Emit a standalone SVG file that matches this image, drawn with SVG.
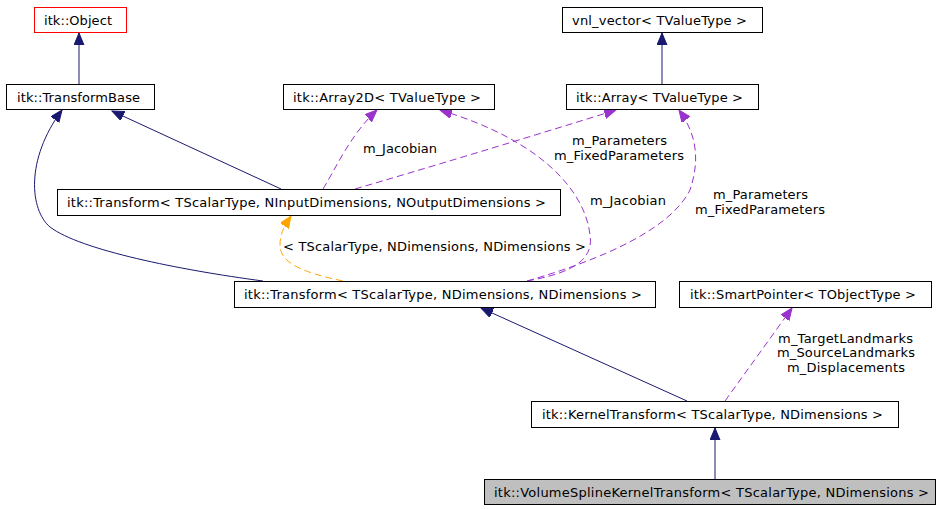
<svg xmlns="http://www.w3.org/2000/svg" width="951" height="509" viewBox="0 0 951 509">
<style>
  .box { fill: #ffffff; stroke: #000000; stroke-width: 1; }
  .t { font-family: "DejaVu Sans", "Liberation Sans", sans-serif; font-size: 13px; fill: #000000; text-anchor: middle; }
  .inh { fill: none; stroke: #191970; stroke-width: 1; }
  .mem { fill: none; stroke: #9a32cd; stroke-width: 1; stroke-dasharray: 7,4; }
  .tpl { fill: none; stroke: #ffa500; stroke-width: 1; stroke-dasharray: 7,4; }
</style>
<defs>
  <marker id="aNavy" markerUnits="userSpaceOnUse" markerWidth="14" markerHeight="12" refX="12" refY="5" orient="auto">
    <path d="M0,0 L12,5 L0,10 z" fill="#191970" stroke="#191970" stroke-width="1"/>
  </marker>
  <marker id="aPurple" markerUnits="userSpaceOnUse" markerWidth="14" markerHeight="12" refX="12" refY="5" orient="auto">
    <path d="M0,0 L12,5 L0,10 z" fill="#9a32cd" stroke="#9a32cd" stroke-width="1"/>
  </marker>
  <marker id="aOrange" markerUnits="userSpaceOnUse" markerWidth="14" markerHeight="12" refX="12" refY="5" orient="auto">
    <path d="M0,0 L12,5 L0,10 z" fill="#ffa500" stroke="#ffa500" stroke-width="1"/>
  </marker>
</defs>
<rect width="951" height="509" fill="#ffffff"/>

<g id="connectors">
  <path class="inh" d="M79,84 L79,33" marker-end="url(#aNavy)"/>
  <path class="inh" d="M662,84 L662,33" marker-end="url(#aNavy)"/>
  <path class="inh" d="M281,189 L112,111" marker-end="url(#aNavy)"/>
  <path class="inh" d="M263,281 C180,270 80,250 50,227 C30,210 25,160 62,110" marker-end="url(#aNavy)"/>
  <path class="mem" d="M323,189 C335,170 350,135 377,110" marker-end="url(#aPurple)"/>
  <path class="mem" d="M355,189 C420,170 520,140 616,110" marker-end="url(#aPurple)"/>
  <path class="mem" d="M527,281 C560,275 595,265 590,235 C585,190 540,140 440,110" marker-end="url(#aPurple)"/>
  <path class="mem" d="M527,281 C600,260 670,230 690,190 C700,160 697,135 679,110" marker-end="url(#aPurple)"/>
  <path class="tpl" d="M343,281 C300,272 280,262 280,245 C280,235 283,228 291,216" marker-end="url(#aOrange)"/>
  <path class="inh" d="M687,401 L481,308" marker-end="url(#aNavy)"/>
  <path class="mem" d="M725,401 L792,308" marker-end="url(#aPurple)"/>
  <path class="inh" d="M715,479 L715,428" marker-end="url(#aNavy)"/>

  <text class="t" x="400" y="153" textLength="74" lengthAdjust="spacing">m_Jacobian</text>
  <text class="t" x="619.5" y="145" textLength="95" lengthAdjust="spacing">m_Parameters</text>
  <text class="t" x="619" y="160" textLength="130" lengthAdjust="spacing">m_FixedParameters</text>
  <text class="t" x="628" y="205" textLength="76" lengthAdjust="spacing">m_Jacobian</text>
  <text class="t" x="760.5" y="199" textLength="95" lengthAdjust="spacing">m_Parameters</text>
  <text class="t" x="760" y="214" textLength="130" lengthAdjust="spacing">m_FixedParameters</text>
  <text class="t" x="434.5" y="251" textLength="303" lengthAdjust="spacing">&lt; TScalarType, NDimensions, NDimensions &gt;</text>
  <text class="t" x="845.5" y="343" textLength="135" lengthAdjust="spacing">m_TargetLandmarks</text>
  <text class="t" x="846" y="357" textLength="138" lengthAdjust="spacing">m_SourceLandmarks</text>
  <text class="t" x="846" y="372" textLength="118" lengthAdjust="spacing">m_Displacements</text>
</g>

<g id="node-object">
  <rect class="box" x="34.5" y="7.5" width="92" height="25" style="stroke:#ff0000"/>
  <text class="t" x="78" y="24.5" textLength="68" lengthAdjust="spacing">itk::Object</text>
</g>
<g id="node-transformbase">
  <rect class="box" x="6.5" y="84.5" width="148" height="25"/>
  <text class="t" x="78.5" y="101.5" textLength="123" lengthAdjust="spacing">itk::TransformBase</text>
</g>
<g id="node-array2d">
  <rect class="box" x="283.5" y="84.5" width="211" height="25"/>
  <text class="t" x="387" y="101.5" textLength="188" lengthAdjust="spacing">itk::Array2D&lt; TValueType &gt;</text>
</g>
<g id="node-vnlvector">
  <rect class="box" x="562.5" y="7.5" width="200" height="25"/>
  <text class="t" x="659.5" y="24.5" textLength="175" lengthAdjust="spacing">vnl_vector&lt; TValueType &gt;</text>
</g>
<g id="node-array">
  <rect class="box" x="566.5" y="84.5" width="192" height="25"/>
  <text class="t" x="659.5" y="101.5" textLength="167" lengthAdjust="spacing">itk::Array&lt; TValueType &gt;</text>
</g>
<g id="node-transform-io">
  <rect class="box" x="57.5" y="189.5" width="503" height="26"/>
  <text class="t" x="306.5" y="206.5" textLength="479" lengthAdjust="spacing">itk::Transform&lt; TScalarType, NInputDimensions, NOutputDimensions &gt;</text>
</g>
<g id="node-transform-nd">
  <rect class="box" x="234.5" y="281.5" width="421" height="26"/>
  <text class="t" x="443" y="298.5" textLength="398" lengthAdjust="spacing">itk::Transform&lt; TScalarType, NDimensions, NDimensions &gt;</text>
</g>
<g id="node-smartpointer">
  <rect class="box" x="679.5" y="281.5" width="252" height="26"/>
  <text class="t" x="803" y="298.5" textLength="226" lengthAdjust="spacing">itk::SmartPointer&lt; TObjectType &gt;</text>
</g>
<g id="node-kerneltransform">
  <rect class="box" x="531.5" y="401.5" width="367" height="26"/>
  <text class="t" x="712.5" y="418.5" textLength="341" lengthAdjust="spacing">itk::KernelTransform&lt; TScalarType, NDimensions &gt;</text>
</g>
<g id="node-volumespline">
  <rect class="box" x="484.5" y="479.5" width="451" height="25" style="fill:#bfbfbf"/>
  <text class="t" x="711.5" y="496.5" textLength="435" lengthAdjust="spacing">itk::VolumeSplineKernelTransform&lt; TScalarType, NDimensions &gt;</text>
</g>
</svg>
